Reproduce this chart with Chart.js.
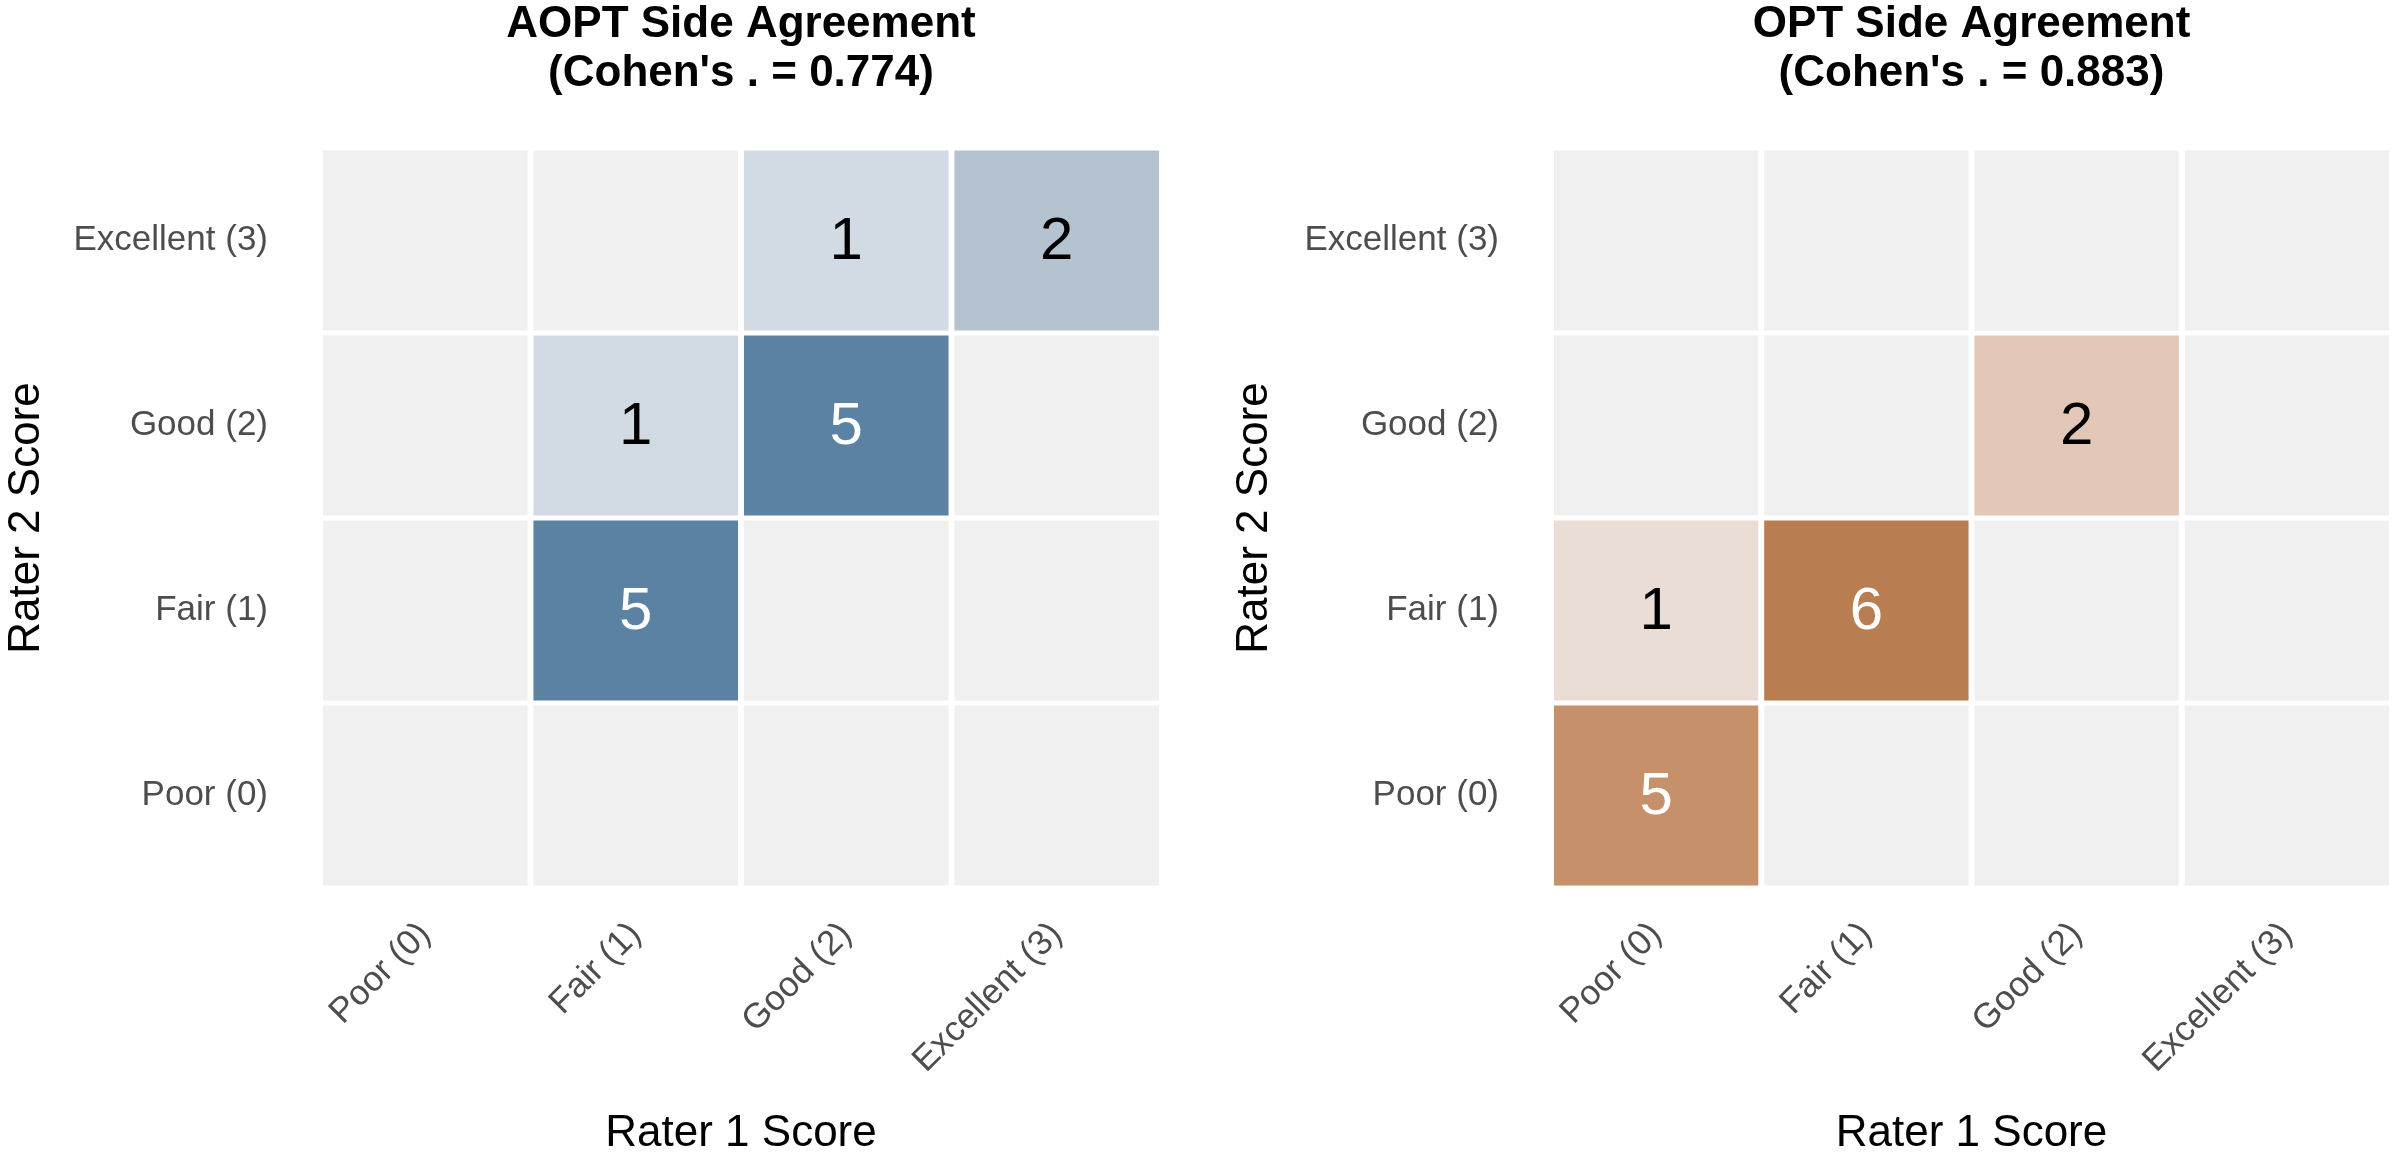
<!DOCTYPE html>
<html>
<head>
<meta charset="utf-8">
<script src="https://cdn.jsdelivr.net/npm/chart.js@4"></script>
<style>
  body { margin: 0; background: #fff; }
  .wrap { position: absolute; top: 0; width: 1196px; height: 1160px; }
  #left { left: 0; }
  #right { left: 1196px; }
</style>
</head>
<body>
<div class="wrap" id="left"><canvas id="c1"></canvas></div>
<div class="wrap" id="right"><canvas id="c2"></canvas></div>
<script>
// score labels (rows bottom→top, columns left→right)
const SCORES = ['Poor (0)', 'Fair (1)', 'Good (2)', 'Excellent (3)'];

// counts[row][col], row = Rater 2 score, col = Rater 1 score
const AOPT_COUNTS = [
  [0, 0, 0, 0],
  [0, 5, 0, 0],
  [0, 1, 5, 0],
  [0, 0, 1, 2],
];
const OPT_COUNTS = [
  [5, 0, 0, 0],
  [1, 6, 0, 0],
  [0, 0, 2, 0],
  [0, 0, 0, 0],
];

const AOPT_TITLE = ['AOPT Side Agreement', "(Cohen's . = 0.774)"];
const OPT_TITLE  = ['OPT Side Agreement', "(Cohen's . = 0.883)"];

const EMPTY = '#f0f0f0';
const BLUES   = { 1: '#d2dae3', 2: '#b5c3d0', 5: '#5b82a3' };
const ORANGES = { 1: '#eaddd5', 2: '#e2c7b6', 5: '#c6906a', 6: '#b97d52' };

const FONT = 'Liberation Sans, Arial, sans-serif';

const cellLabels = {
  id: 'cellLabels',
  afterDatasetsDraw(chart) {
    const ctx = chart.ctx;
    ctx.save();
    ctx.font = `60px ${FONT}`;
    ctx.textAlign = 'center';
    ctx.textBaseline = 'middle';
    chart.data.datasets.forEach((ds, i) => {
      chart.getDatasetMeta(i).data.forEach((bar, j) => {
        const n = ds._counts[j];
        if (!n) return;
        const p = bar.getCenterPoint();
        ctx.fillStyle = n >= 5 ? '#ffffff' : '#000000';
        ctx.fillText(String(n), p.x, p.y + 2);
      });
    });
    ctx.restore();
  },
};

const twoLineTitle = {
  id: 'twoLineTitle',
  afterDraw(chart) {
    const ctx = chart.ctx;
    const a = chart.chartArea;
    const cx = (a.left + a.right) / 2;
    ctx.save();
    ctx.font = `bold 44px ${FONT}`;
    ctx.fillStyle = '#000';
    ctx.textAlign = 'center';
    ctx.textBaseline = 'middle';
    chart.options._titleLines.forEach((t, i) => ctx.fillText(t, cx, 25 + i * 49));
    ctx.restore();
  },
};

function makeChart(id, counts, palette, title, padLeft, padRight, yWidth) {
  const datasets = counts.map((row, r) => ({
    data: row.map(() => [r + 0.014, r + 0.986]),
    backgroundColor: row.map(n => n ? palette[n] : EMPTY),
    borderWidth: 0,
    grouped: false,
    barPercentage: 0.972,
    categoryPercentage: 1,
    _counts: row,
  }));

  return new Chart(document.getElementById(id), {
    type: 'bar',
    data: { labels: SCORES, datasets },
    plugins: [cellLabels, twoLineTitle],
    options: {
      responsive: true,
      maintainAspectRatio: false,
      animation: false,
      _titleLines: title,
      layout: { padding: { top: 148, left: padLeft, right: padRight, bottom: 0 } },
      plugins: { legend: { display: false }, tooltip: { enabled: false } },
      scales: {
        x: {
          grid: { display: false },
          border: { display: false },
          ticks: {
            color: '#4d4d4d',
            font: { family: FONT, size: 35 },
            maxRotation: 45,
            minRotation: 45,
            padding: 18,
          },
          title: {
            display: true, text: 'Rater 1 Score', color: '#000',
            font: { family: FONT, size: 44 }, padding: { top: 0, bottom: 0 },
          },
          afterFit: s => { s.height = 272; },
        },
        y: {
          min: 0, max: 4,
          grid: { display: false },
          border: { display: false },
          afterBuildTicks: s => { s.ticks = [0.5, 1.5, 2.5, 3.5].map(v => ({ value: v })); },
          ticks: {
            color: '#4d4d4d',
            font: { family: FONT, size: 35 },
            padding: 44,
            callback: (v, i) => SCORES[i],
          },
          title: {
            display: true, text: 'Rater 2 Score', color: '#000',
            font: { family: FONT, size: 44 }, padding: { top: 0, bottom: 0 },
          },
          afterFit: s => { s.width = yWidth; },
        },
      },
    },
  });
}

makeChart('c1', AOPT_COUNTS, BLUES, AOPT_TITLE, 0, 34, 320);
makeChart('c2', OPT_COUNTS, ORANGES, OPT_TITLE, 32, 0, 323);
</script>
</body>
</html>
